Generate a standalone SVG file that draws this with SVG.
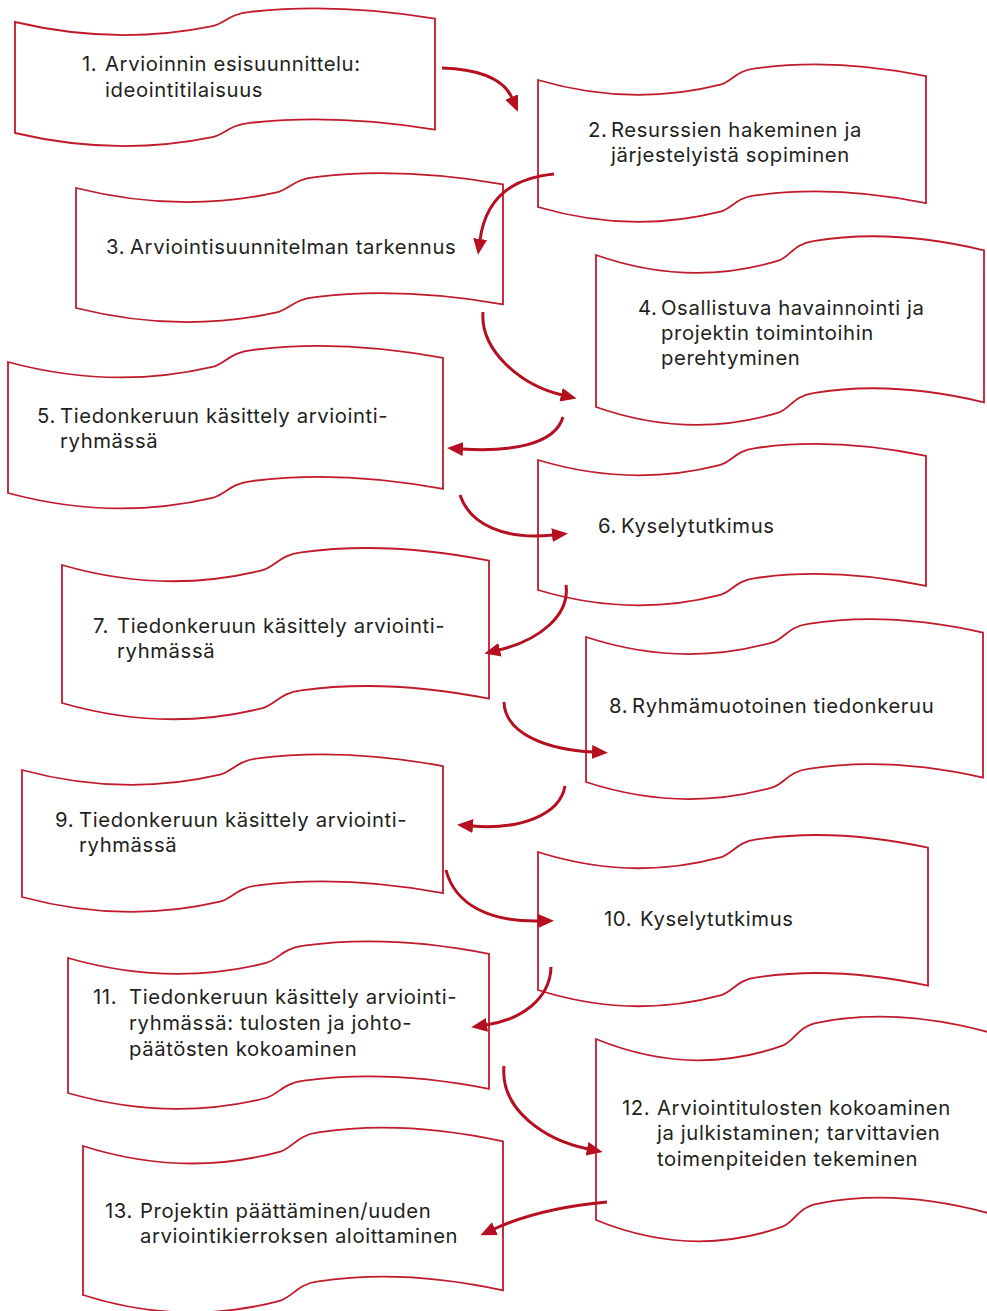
<svg xmlns="http://www.w3.org/2000/svg" xmlns:xlink="http://www.w3.org/1999/xlink" width="987" height="1311" viewBox="0 0 987 1311">
<style>
.bn{fill:#ffffff;stroke:#c01a2c;stroke-width:1.8}
.t{font-family:Inter,"Open Sans","Liberation Sans",sans-serif;font-size:20.3px;letter-spacing:0.6px;fill:#231f20}
.ar{fill:none;stroke:#b50f20;stroke-width:3;marker-end:url(#ah)}
</style>
<defs>
<path id="banner" vector-effect="non-scaling-stroke" d="M0,0 Q0.24,0.215 0.47,0.037 C0.50,0.012 0.51,-0.074 0.56,-0.091 Q0.76,-0.178 1,-0.031 L1,0.969 Q0.76,0.822 0.56,0.909 C0.51,0.926 0.50,1.012 0.47,1.037 Q0.24,1.215 0,1 Z"/>
<marker id="ah" viewBox="0 0 16 14" refX="1" refY="7" markerWidth="16" markerHeight="14" markerUnits="userSpaceOnUse" orient="auto">
<path d="M0,0 L16,7 L0,14 Z" fill="#b50f20"/>
</marker>
</defs>
<g id="node1"><use href="#banner" class="bn" transform="translate(15,22) scale(420,111)"/>
<text class="t"><tspan x="82" y="71">1.</tspan><tspan x="105" y="71">Arvioinnin esisuunnittelu:</tspan><tspan x="105" y="97">ideointitilaisuus</tspan></text></g>
<g id="node2"><use href="#banner" class="bn" transform="translate(538,80) scale(388,127)"/>
<text class="t"><tspan x="588" y="137">2.</tspan><tspan x="611" y="137">Resurssien hakeminen ja</tspan><tspan x="611" y="162">järjestelyistä sopiminen</tspan></text></g>
<g id="node3"><use href="#banner" class="bn" transform="translate(76,188) scale(427,120)"/>
<text class="t"><tspan x="106" y="254">3.</tspan><tspan x="130" y="254">Arviointisuunnitelman tarkennus</tspan></text></g>
<g id="node4"><use href="#banner" class="bn" transform="translate(596,255) scale(388,152)"/>
<text class="t"><tspan x="638" y="315">4.</tspan><tspan x="661" y="315">Osallistuva havainnointi ja</tspan><tspan x="661" y="340">projektin toimintoihin</tspan><tspan x="661" y="365">perehtyminen</tspan></text></g>
<g id="node5"><use href="#banner" class="bn" transform="translate(8,362) scale(435,131)"/>
<text class="t"><tspan x="37" y="423">5.</tspan><tspan x="60" y="423">Tiedonkeruun käsittely arviointi-</tspan><tspan x="60" y="448">ryhmässä</tspan></text></g>
<g id="node6"><use href="#banner" class="bn" transform="translate(538,460) scale(388,130)"/>
<text class="t"><tspan x="598" y="533">6.</tspan><tspan x="621" y="533">Kyselytutkimus</tspan></text></g>
<g id="node7"><use href="#banner" class="bn" transform="translate(62,565) scale(427,138)"/>
<text class="t"><tspan x="93" y="633">7.</tspan><tspan x="117" y="633">Tiedonkeruun käsittely arviointi-</tspan><tspan x="117" y="658">ryhmässä</tspan></text></g>
<g id="node8"><use href="#banner" class="bn" transform="translate(586,637) scale(397,145)"/>
<text class="t"><tspan x="609" y="713">8.</tspan><tspan x="632" y="713">Ryhmämuotoinen tiedonkeruu</tspan></text></g>
<g id="node9"><use href="#banner" class="bn" transform="translate(22,770) scale(421,127)"/>
<text class="t"><tspan x="55" y="827">9.</tspan><tspan x="79" y="827">Tiedonkeruun käsittely arviointi-</tspan><tspan x="79" y="852">ryhmässä</tspan></text></g>
<g id="node10"><use href="#banner" class="bn" transform="translate(538,852) scale(390,138)"/>
<text class="t"><tspan x="604" y="926">10.</tspan><tspan x="640" y="926">Kyselytutkimus</tspan></text></g>
<g id="node11"><use href="#banner" class="bn" transform="translate(68,958) scale(421,135)"/>
<text class="t"><tspan x="93" y="1004">11.</tspan><tspan x="129" y="1004">Tiedonkeruun käsittely arviointi-</tspan><tspan x="129" y="1030">ryhmässä: tulosten ja johto-</tspan><tspan x="129" y="1056">päätösten kokoaminen</tspan></text></g>
<g id="node12"><use href="#banner" class="bn" transform="translate(596,1039) scale(397,181)"/>
<text class="t"><tspan x="622" y="1115">12.</tspan><tspan x="657" y="1115">Arviointitulosten kokoaminen</tspan><tspan x="657" y="1140">ja julkistaminen; tarvittavien</tspan><tspan x="657" y="1166">toimenpiteiden tekeminen</tspan></text></g>
<g id="node13"><use href="#banner" class="bn" transform="translate(83,1146) scale(420,149)"/>
<text class="t"><tspan x="105" y="1218">13.</tspan><tspan x="140" y="1218">Projektin päättäminen/uuden</tspan><tspan x="140" y="1243">arviointikierroksen aloittaminen</tspan></text></g>
<g id="connectors">
<path class="ar" d="M442,68 Q500,70 512,98"/>
<path class="ar" d="M554,174 Q488,180 480,240"/>
<path class="ar" d="M483,312 C480,350 520,385 562,395"/>
<path class="ar" d="M563,417 C555,445 510,452 462,449"/>
<path class="ar" d="M460,495 C470,525 505,540 553,535"/>
<path class="ar" d="M566,585 C570,615 540,640 499,650"/>
<path class="ar" d="M504,702 C505,735 550,750 593,752"/>
<path class="ar" d="M565,786 C560,815 520,830 472,826"/>
<path class="ar" d="M446,870 C455,905 490,922 539,921"/>
<path class="ar" d="M551,967 C550,1000 520,1020 486,1025"/>
<path class="ar" d="M504,1066 C500,1110 545,1140 588,1149"/>
<path class="ar" d="M607,1202 Q540,1208 494,1229"/>
</g>
</svg>
